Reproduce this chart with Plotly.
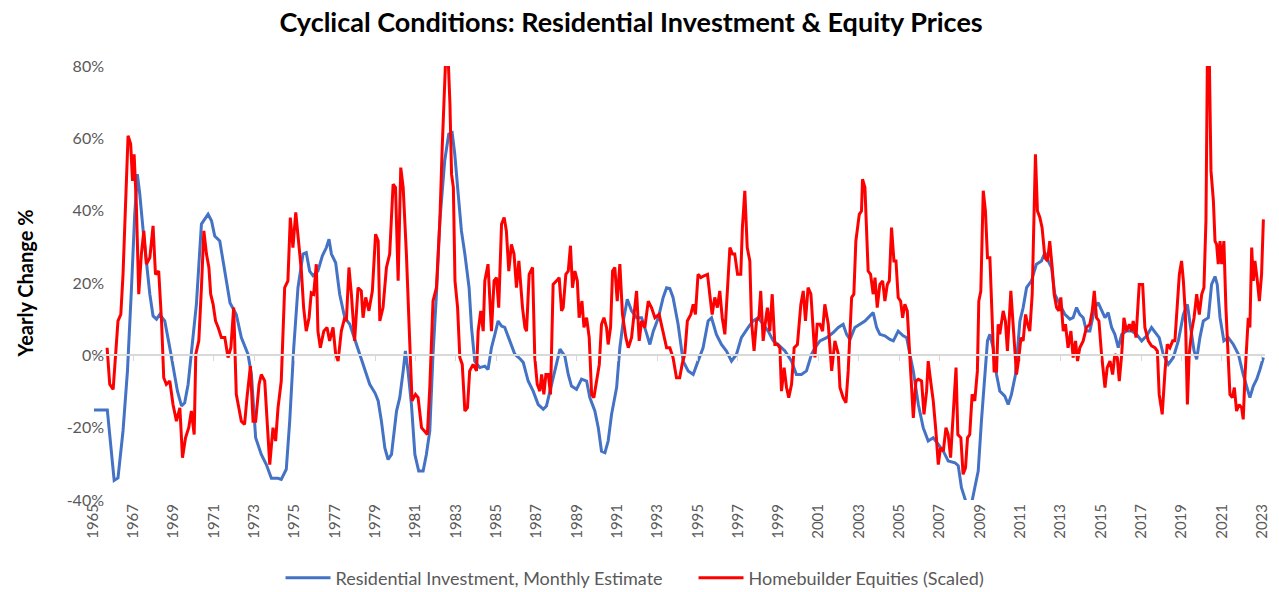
import plotly.graph_objects as go

# ---------------- data (decimal year, yearly change %) ----------------
ri_year = [
    1965.05, 1965.71, 1966.05, 1966.24, 1966.49, 1966.71, 1966.91, 1967.07, 1967.2, 1967.32,
    1967.49, 1967.65, 1967.82, 1967.98, 1968.15, 1968.31, 1968.56, 1968.81, 1968.97, 1969.19,
    1969.39, 1969.55, 1969.72, 1969.88, 1970.13, 1970.38, 1970.55, 1970.71, 1970.88, 1971.04,
    1971.29, 1971.46, 1971.62, 1971.8, 1972.11, 1972.36, 1972.69, 1972.86, 1973.07, 1973.35,
    1973.6, 1973.85, 1974.18, 1974.34, 1974.59, 1974.76, 1974.96, 1975.17, 1975.42, 1975.58,
    1975.75, 1975.92, 1976.16, 1976.38, 1976.58, 1976.71, 1976.83, 1977.04, 1977.24, 1977.49,
    1977.74, 1978.07, 1978.4, 1978.73, 1979.0, 1979.15, 1979.31, 1979.48, 1979.64, 1979.81,
    1980.06, 1980.22, 1980.39, 1980.5, 1980.63, 1980.8, 1980.97, 1981.16, 1981.38, 1981.54,
    1981.71, 1981.87, 1982.04, 1982.21, 1982.45, 1982.65, 1982.82, 1982.95, 1983.12, 1983.28,
    1983.45, 1983.66, 1983.78, 1983.94, 1984.19, 1984.44, 1984.6, 1984.77, 1984.94, 1985.1,
    1985.27, 1985.43, 1985.68, 1985.93, 1986.2, 1986.35, 1986.59, 1986.84, 1987.09, 1987.34,
    1987.5, 1987.75, 1988.0, 1988.17, 1988.41, 1988.58, 1988.74, 1988.99, 1989.24, 1989.49,
    1989.65, 1989.9, 1990.07, 1990.23, 1990.4, 1990.56, 1990.73, 1990.98, 1991.14, 1991.31,
    1991.51, 1991.72, 1991.97, 1992.22, 1992.43, 1992.63, 1992.8, 1993.05, 1993.29, 1993.46,
    1993.62, 1993.78, 1994.03, 1994.28, 1994.53, 1994.78, 1995.02, 1995.27, 1995.52, 1995.69,
    1995.93, 1996.18, 1996.43, 1996.68, 1996.93, 1997.17, 1997.51, 1997.75, 1998.0, 1998.25,
    1998.5, 1998.75, 1998.99, 1999.33, 1999.66, 1999.9, 2000.15, 2000.4, 2000.65, 2000.82,
    2001.07, 2001.4, 2001.73, 2001.98, 2002.22, 2002.39, 2002.56, 2002.8, 2003.05, 2003.3,
    2003.55, 2003.71, 2003.88, 2004.04, 2004.29, 2004.54, 2004.71, 2004.95, 2005.2, 2005.37,
    2005.53, 2005.7, 2005.95, 2006.19, 2006.44, 2006.69, 2006.94, 2007.19, 2007.43, 2007.77,
    2007.93, 2008.09, 2008.34, 2008.59, 2008.75, 2008.92, 2009.08, 2009.25, 2009.38, 2009.5,
    2009.66, 2009.83, 2009.99, 2010.24, 2010.41, 2010.57, 2010.77, 2010.99, 2011.15, 2011.32,
    2011.56, 2011.81, 2012.06, 2012.23, 2012.39, 2012.56, 2012.72, 2012.89, 2013.05, 2013.22,
    2013.47, 2013.63, 2013.8, 2013.96, 2014.13, 2014.29, 2014.46, 2014.71, 2014.87, 2015.04,
    2015.21, 2015.37, 2015.54, 2015.7, 2015.87, 2016.04, 2016.28, 2016.53, 2016.78, 2017.03,
    2017.28, 2017.52, 2017.69, 2017.9, 2018.1, 2018.35, 2018.6, 2018.85, 2019.1, 2019.3,
    2019.46, 2019.63, 2019.76, 2019.92, 2020.09, 2020.34, 2020.5, 2020.67, 2020.78, 2020.92,
    2021.11, 2021.33, 2021.58, 2021.83, 2022.07, 2022.24, 2022.4, 2022.57, 2022.74, 2022.9,
    2023.07,
]
ri_value = [
    -15.1, -15.1, -34.6, -33.9, -20.9, -4.3, 18.7, 39.0, 50.1, 44.6,
    34.4, 26.1, 16.9, 10.9, 10.0, 11.3, 9.5, 2.1, -3.4, -9.9,
    -14.0, -13.1, -8.0, 0.3, 14.1, 36.3, 37.6, 39.0, 37.2, 33.0,
    31.6, 26.1, 21.5, 14.5, 11.3, 4.9, 0.3, -5.3, -22.8, -27.4,
    -30.2, -34.0, -34.0, -34.3, -31.5, -18.2, 2.1, 18.7, 28.0, 28.4,
    23.3, 22.0, 23.3, 27.5, 29.8, 32.1, 28.0, 25.6, 16.9, 10.4,
    8.6, 3.0, -2.5, -8.0, -10.5, -12.6, -18.2, -25.6, -28.8, -27.4,
    -15.4, -11.7, -4.3, 1.2, -4.3, -13.6, -27.4, -32.0, -32.0, -27.4,
    -20.9, 0.3, 16.9, 37.2, 53.8, 61.2, 61.6, 55.6, 44.6, 34.4,
    28.0, 18.7, 7.7, -1.6, -3.4, -3.0, -3.9, 2.1, 5.8, 9.5,
    8.1, 7.7, 4.0, 0.3, -1.0, -2.0, -7.1, -9.9, -13.6, -14.9,
    -14.0, -8.0, -1.6, 1.7, -0.2, -5.3, -8.5, -9.4, -6.6, -7.1,
    -11.7, -15.4, -20.0, -26.5, -26.9, -23.7, -16.3, -8.9, 2.1, 9.5,
    15.5, 12.3, 10.4, 10.4, 6.7, 3.0, 6.7, 10.4, 16.0, 18.7,
    18.5, 16.0, 8.6, -1.6, -4.3, -5.3, -1.6, 2.1, 9.5, 10.4,
    5.8, 3.0, 1.2, -1.6, 0.3, 4.9, 7.7, 9.5, 10.4, 8.6,
    6.7, 4.0, 3.0, 1.2, -1.6, -5.3, -5.3, -4.3, 0.3, 2.1,
    4.0, 4.9, 6.3, 7.7, 8.6, 5.8, 4.4, 7.7, 8.6, 9.5,
    10.9, 11.8, 7.7, 5.8, 5.4, 4.4, 4.0, 6.7, 5.4, 4.9,
    0.3, -4.3, -13.6, -20.0, -23.7, -22.8, -24.6, -26.5, -29.2, -29.7,
    -30.5, -36.6, -41.0, -41.0, -36.6, -32.0, -18.2, -4.3, 4.0, 5.8,
    2.1, -5.3, -9.9, -11.3, -13.6, -10.8, -5.3, 9.5, 13.2, 18.7,
    20.6, 25.2, 26.1, 28.4, 26.1, 24.3, 16.9, 15.0, 13.2, 11.3,
    10.0, 10.4, 13.2, 11.3, 10.4, 6.7, 6.7, 13.2, 14.6, 12.3,
    10.4, 11.8, 7.7, 5.8, 2.1, 5.8, 6.7, 6.7, 5.8, 4.0,
    5.4, 7.7, 6.3, 4.9, 0.3, -2.5, -0.6, 4.0, 11.3, 14.1,
    7.7, 1.2, -1.1, 4.9, 9.5, 10.4, 19.6, 21.8, 19.6, 10.4,
    4.0, 4.9, 3.0, 0.3, -5.3, -8.9, -11.7, -8.5, -6.6, -3.9,
    -0.6,
]

hb_year = [
    1965.7, 1965.83, 1966.0, 1966.11, 1966.24, 1966.38, 1966.49, 1966.61, 1966.74, 1966.87,
    1966.96, 1967.04, 1967.15, 1967.27, 1967.4, 1967.52, 1967.65, 1967.82, 1967.98, 1968.1,
    1968.26, 1968.4, 1968.51, 1968.64, 1968.81, 1968.97, 1969.14, 1969.31, 1969.44, 1969.59,
    1969.75, 1969.88, 1970.02, 1970.1, 1970.25, 1970.38, 1970.5, 1970.63, 1970.75, 1970.84,
    1970.96, 1971.08, 1971.21, 1971.37, 1971.54, 1971.7, 1971.84, 1971.98, 1972.11, 1972.36,
    1972.52, 1972.64, 1972.81, 1972.94, 1973.07, 1973.24, 1973.35, 1973.52, 1973.63, 1973.77,
    1973.93, 1974.06, 1974.18, 1974.34, 1974.51, 1974.67, 1974.79, 1974.92, 1975.06, 1975.17,
    1975.34, 1975.45, 1975.58, 1975.72, 1975.83, 1975.95, 1976.08, 1976.16, 1976.28, 1976.45,
    1976.61, 1976.74, 1976.91, 1977.04, 1977.16, 1977.32, 1977.49, 1977.57, 1977.7, 1977.82,
    1977.98, 1978.15, 1978.31, 1978.4, 1978.53, 1978.69, 1978.86, 1979.02, 1979.15, 1979.23,
    1979.39, 1979.56, 1979.72, 1979.89, 1980.01, 1980.14, 1980.27, 1980.39, 1980.55, 1980.72,
    1980.83, 1981.0, 1981.13, 1981.3, 1981.46, 1981.59, 1981.71, 1981.87, 1982.04, 1982.21,
    1982.32, 1982.42, 1982.49, 1982.63, 1982.71, 1982.79, 1982.88, 1982.96, 1983.09, 1983.2,
    1983.32, 1983.45, 1983.58, 1983.69, 1983.86, 1984.03, 1984.11, 1984.24, 1984.36, 1984.44,
    1984.6, 1984.77, 1984.9, 1985.02, 1985.13, 1985.27, 1985.4, 1985.51, 1985.63, 1985.76,
    1985.89, 1986.01, 1986.13, 1986.31, 1986.43, 1986.51, 1986.64, 1986.81, 1986.92, 1987.04,
    1987.17, 1987.26, 1987.37, 1987.47, 1987.59, 1987.7, 1987.83, 1988.0, 1988.13, 1988.25,
    1988.33, 1988.46, 1988.58, 1988.69, 1988.79, 1988.91, 1989.03, 1989.12, 1989.26, 1989.36,
    1989.49, 1989.62, 1989.74, 1989.85, 1989.98, 1990.12, 1990.23, 1990.35, 1990.48, 1990.56,
    1990.68, 1990.78, 1990.89, 1991.01, 1991.14, 1991.27, 1991.44, 1991.56, 1991.72, 1991.84,
    1991.97, 1992.1, 1992.22, 1992.38, 1992.55, 1992.71, 1992.88, 1993.09, 1993.29, 1993.46,
    1993.62, 1993.78, 1993.95, 1994.11, 1994.23, 1994.36, 1994.49, 1994.66, 1994.78, 1994.89,
    1995.02, 1995.16, 1995.32, 1995.49, 1995.6, 1995.72, 1995.85, 1995.98, 1996.1, 1996.22,
    1996.35, 1996.48, 1996.6, 1996.73, 1996.84, 1996.98, 1997.14, 1997.22, 1997.34, 1997.46,
    1997.59, 1997.67, 1997.8, 1997.92, 1998.04, 1998.13, 1998.25, 1998.37, 1998.46, 1998.58,
    1998.7, 1998.83, 1998.96, 1999.08, 1999.16, 1999.29, 1999.41, 1999.52, 1999.66, 1999.79,
    1999.95, 2000.12, 2000.24, 2000.35, 2000.48, 2000.62, 2000.82, 2000.93, 2001.07, 2001.2,
    2001.31, 2001.48, 2001.65, 2001.81, 2001.98, 2002.06, 2002.22, 2002.36, 2002.47, 2002.64,
    2002.75, 2002.85, 2003.02, 2003.13, 2003.18, 2003.3, 2003.46, 2003.58, 2003.71, 2003.8,
    2003.91, 2004.04, 2004.18, 2004.29, 2004.41, 2004.51, 2004.62, 2004.74, 2004.84, 2004.95,
    2005.07, 2005.17, 2005.28, 2005.4, 2005.5, 2005.62, 2005.7, 2005.83, 2005.95, 2006.11,
    2006.23, 2006.36, 2006.44, 2006.56, 2006.69, 2006.82, 2006.94, 2007.05, 2007.19, 2007.32,
    2007.43, 2007.55, 2007.68, 2007.82, 2007.91, 2008.06, 2008.17, 2008.29, 2008.39, 2008.5,
    2008.62, 2008.75, 2008.88, 2008.95, 2009.05, 2009.17, 2009.28, 2009.38, 2009.5, 2009.61,
    2009.71, 2009.83, 2009.91, 2009.99, 2010.16, 2010.27, 2010.37, 2010.54, 2010.65, 2010.82,
    2010.94, 2011.04, 2011.15, 2011.27, 2011.37, 2011.48, 2011.6, 2011.7, 2011.76, 2011.86,
    2011.98, 2012.09, 2012.23, 2012.36, 2012.47, 2012.59, 2012.69, 2012.81, 2012.92, 2013.02,
    2013.14, 2013.25, 2013.38, 2013.52, 2013.63, 2013.75, 2013.85, 2013.96, 2014.13, 2014.29,
    2014.46, 2014.58, 2014.68, 2014.79, 2014.91, 2015.04, 2015.21, 2015.32, 2015.46, 2015.59,
    2015.7, 2015.82, 2015.92, 2016.04, 2016.15, 2016.28, 2016.42, 2016.53, 2016.61, 2016.75,
    2016.91, 2017.08, 2017.19, 2017.36, 2017.52, 2017.69, 2017.81, 2017.9, 2018.05, 2018.19,
    2018.3, 2018.43, 2018.57, 2018.68, 2018.8, 2018.9, 2019.01, 2019.1, 2019.2, 2019.3,
    2019.39, 2019.51, 2019.63, 2019.76, 2019.89, 2020.01, 2020.12, 2020.22, 2020.29, 2020.39,
    2020.47, 2020.59, 2020.67, 2020.75, 2020.83, 2020.92, 2021.0, 2021.11, 2021.21, 2021.33,
    2021.41, 2021.53, 2021.63, 2021.74, 2021.87, 2021.99, 2022.07, 2022.16, 2022.24, 2022.32,
    2022.4, 2022.49, 2022.57, 2022.65, 2022.77, 2022.87, 2022.98, 2023.07,
]
hb_value = [
    2.1, -8.0, -9.4, -1.6, 9.5, 11.3, 22.4, 40.9, 60.7, 58.4,
    48.2, 55.6, 41.8, 16.9, 28.0, 34.4, 25.2, 27.0, 35.8, 22.4,
    23.3, 9.5, -6.2, -8.0, -7.1, -13.6, -18.2, -14.5, -28.3, -22.8,
    -20.0, -15.4, -21.9, 0.3, 4.0, 18.7, 34.4, 28.0, 24.3, 16.9,
    14.1, 9.5, 7.7, 4.9, 4.9, -0.6, 2.1, 13.2, -10.8, -18.2,
    -19.1, -11.7, -3.0, -18.2, -18.2, -8.0, -5.3, -7.1, -18.2, -30.2,
    -20.0, -23.7, -14.5, -7.1, 18.7, 20.6, 38.1, 29.8, 39.5, 33.5,
    23.3, 13.2, 6.7, 10.4, 17.3, 16.9, 25.2, 6.7, 2.1, 6.7,
    7.7, 4.0, 7.7, 0.3, -1.6, 6.7, 10.4, 9.5, 24.3, 16.9,
    4.0, 18.7, 17.8, 10.4, 16.0, 12.3, 17.8, 33.5, 31.6, 9.5,
    13.2, 24.3, 28.0, 47.3, 46.4, 20.6, 51.9, 46.4, 28.0, 3.0,
    -12.6, -10.8, -11.7, -20.0, -20.9, -21.9, -8.9, 15.0, 18.7, 37.2,
    56.5, 72.2, 81.0, 81.0, 69.5, 50.1, 46.4, 20.6, 13.2, -0.6,
    -2.5, -15.4, -14.5, -4.3, -2.5, -4.3, 6.7, 12.3, 6.7, 20.6,
    25.2, 6.7, 20.6, 21.5, 13.2, 36.3, 38.1, 34.4, 23.3, 30.7,
    28.0, 18.7, 26.1, 13.2, 7.7, 6.7, 22.4, 24.3, -0.6, -8.0,
    -9.9, -5.3, -10.8, -5.3, -5.3, -10.8, 19.6, 20.6, 21.5, 12.3,
    13.2, 22.4, 23.3, 30.3, 18.7, 23.3, 20.6, 10.4, 15.0, 7.7,
    10.4, 4.9, -10.8, -11.7, -7.1, -2.5, 8.6, 10.4, 7.7, 3.0,
    7.7, 23.3, 24.3, 15.0, 25.2, 11.3, 4.9, 2.1, 4.9, 10.4,
    17.8, 4.0, 9.5, 7.7, 15.0, 13.2, 10.4, 11.3, 6.7, 2.1,
    2.1, -0.6, -6.2, -6.2, -2.5, 0.3, 9.5, 11.3, 14.1, 11.3,
    22.4, 21.5, 22.0, 22.4, 16.9, 11.3, 16.0, 13.2, 17.8, 10.4,
    5.8, 16.9, 29.8, 28.0, 28.0, 22.4, 22.4, 35.3, 45.5, 29.8,
    26.1, 9.5, 1.2, 9.5, 10.4, 17.8, 4.0, 9.5, 13.2, 6.7,
    16.9, 3.0, 3.0, 2.1, -9.9, -3.4, -8.9, -11.7, -8.0, 2.1,
    3.0, 14.1, 17.8, 9.5, 18.7, 16.9, -0.6, 8.6, 8.6, 6.7,
    14.1, 8.6, -4.3, 4.0, 0.3, -8.9, -11.7, -13.1, -4.3, 16.0,
    16.9, 31.6, 39.0, 39.9, 48.7, 46.4, 23.3, 22.4, 16.9, 21.5,
    13.2, 19.6, 20.6, 15.0, 19.6, 20.6, 35.3, 26.1, 26.1, 16.0,
    15.0, 10.4, 14.1, 12.3, 2.1, -10.8, -17.3, -7.1, -6.6, -7.1,
    -16.3, -9.9, -1.6, -7.1, -12.6, -20.9, -30.2, -25.6, -26.5, -20.0,
    -21.9, -28.3, -15.4, -3.4, -21.9, -22.8, -32.9, -31.1, -22.8, -21.9,
    -10.8, -12.6, -4.3, 15.0, 17.8, 45.5, 39.9, 27.0, 27.0, 9.5,
    -4.3, -4.3, 8.6, 5.8, 12.3, 9.5, 1.2, 17.8, 7.7, -5.3,
    -0.6, 4.9, 4.0, 11.3, 8.6, 6.7, 16.9, 37.2, 55.6, 39.9,
    38.1, 35.3, 27.0, 26.1, 31.6, 24.3, 16.9, 13.2, 12.3, 16.0,
    6.7, 8.6, 2.1, 6.7, -0.6, 4.0, -1.6, 2.1, 4.0, 7.7,
    8.6, 12.3, 17.8, 10.4, 9.5, 0.3, -8.9, -3.4, -1.6, -5.3,
    0.3, -0.6, -7.1, 0.3, 10.4, 6.7, 8.6, 6.7, 9.5, 4.9,
    19.6, 19.6, 7.7, 4.0, 2.6, 2.1, 1.2, -10.8, -16.3, -4.3,
    3.0, 2.1, 4.0, 4.0, 13.2, 22.4, 26.1, 20.6, 11.3, -13.6,
    0.3, 6.7, 10.4, 16.9, 11.3, 16.9, 18.7, 37.2, 81.0, 81.0,
    51.0, 42.7, 31.6, 30.7, 25.2, 31.6, 25.2, 31.6, 13.2, 0.3,
    -10.8, -11.7, -8.9, -15.4, -13.6, -14.5, -17.7, -5.3, 3.0, 10.4,
    7.7, 29.8, 20.6, 26.1, 20.6, 15.0, 22.4, 37.6,
]

tick_years = list(range(1965, 2024, 2))
tick_labels = [str(y) for y in tick_years]
y_ticks = [-40, -20, 0, 20, 40, 60, 80]
y_tick_labels = [f"{v}%" for v in y_ticks]

series_names = ["Residential Investment, Monthly Estimate", "Homebuilder Equities (Scaled)"]
series_colors = ["#4472C4", "#FF0000"]

# ---------------- figure ----------------
FONT = "Lato, 'Open Sans', sans-serif"
GRAY = "#595959"
X_RANGE = [1965, 2023.15]

fig = go.Figure()
fig.add_trace(go.Scatter(x=ri_year, y=ri_value, mode="lines", name=series_names[0],
                         line=dict(color=series_colors[0], width=3), hoverinfo="x+y"))
fig.add_trace(go.Scatter(x=hb_year, y=hb_value, mode="lines", name=series_names[1],
                         line=dict(color=series_colors[1], width=3), hoverinfo="x+y"))

fig.update_layout(
    width=1279, height=592,
    paper_bgcolor="white", plot_bgcolor="white",
    margin=dict(l=93, r=14, t=66, b=92, autoexpand=False),
    title=dict(text="<b>Cyclical Conditions: Residential Investment & Equity Prices</b>",
               x=0.4934, xanchor="center", y=0.962, yanchor="middle",
               font=dict(family=FONT, size=27, color="black")),
    font=dict(family=FONT, color=GRAY),
    showlegend=True,
    legend=dict(orientation="h", x=0.16, xanchor="left", y=-0.18, yanchor="middle",
                font=dict(family=FONT, size=18, color=GRAY), itemwidth=45,
                entrywidth=353, entrywidthmode="pixels",
                traceorder="normal"),
    xaxis=dict(range=X_RANGE, tickmode="array", tickvals=tick_years, ticktext=tick_labels,
               tickangle=-90, tickfont=dict(family=FONT, size=15, color=GRAY),
               showgrid=False, zeroline=False, showline=False, ticks="",
               fixedrange=True),
    xaxis2=dict(range=X_RANGE, overlaying="x", anchor="free", position=1/3, side="bottom",
                tickmode="array", tickvals=tick_years, showticklabels=False,
                ticks="outside", ticklen=5, tickcolor="#D9D9D9", tickwidth=1,
                showline=True, linecolor="#D9D9D9", linewidth=1.5,
                showgrid=False, zeroline=False, matches="x"),
    yaxis=dict(range=[-40, 80], tickmode="array", tickvals=y_ticks, ticktext=y_tick_labels,
               tickfont=dict(family=FONT, size=16, color=GRAY),
               ticklabelstandoff=-12,
               showgrid=False, zeroline=False, showline=False, ticks="",
               title=dict(text="<b>Yearly Change %</b>", font=dict(family=FONT, size=20, color="black"),
                          standoff=27),
               fixedrange=True),
)

# invisible trace to make xaxis2 render
fig.add_trace(go.Scatter(x=[X_RANGE[0]], y=[0], xaxis="x2", mode="markers",
                         marker=dict(opacity=0), showlegend=False, hoverinfo="skip"))

# remove the page's default body margin so the figure fills the window exactly
fig.write_html("out.html", config={"displayModeBar": False},
               post_script="document.body.style.margin='0';")
